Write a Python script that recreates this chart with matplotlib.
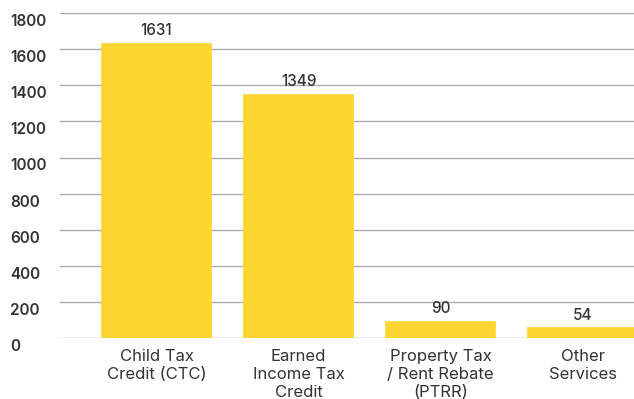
import matplotlib.pyplot as plt
import matplotlib.transforms as mtransforms

categories = ["Child Tax\nCredit (CTC)", "Earned\nIncome Tax\nCredit",
              "Property Tax\n/ Rent Rebate\n(PTRR)", "Other\nServices"]
values = [1631, 1349, 90, 54]
yticks = [0, 200, 400, 600, 800, 1000, 1200, 1400, 1600, 1800]

plt.rcParams["font.family"] = ["Inter", "DejaVu Sans"]

fig = plt.figure(figsize=(6.34, 3.99), dpi=100)
ax = fig.add_axes([0.0946, 0.153, 0.9054, 0.814])

x = list(range(len(values)))
bars = ax.bar(x, values, width=0.77, color="#FDD530", edgecolor="#FDD530",
              linewidth=1.2, zorder=2)

for xi, v in zip(x, values):
    ax.annotate(str(v), (xi, v), xytext=(0, 4), textcoords="offset points",
                ha="center", va="bottom", fontsize=11, fontweight="medium",
                color="#333333")

ax.set_xlim(-0.68, 3.36)
ax.set_ylim(0, 1800)
ax.set_yticks(yticks)
ax.set_yticklabels([str(t) for t in yticks])
ax.set_xticks(x)
ax.set_xticklabels(categories, fontsize=12, color="#333333", linespacing=1.25)

ax.grid(axis="y", color="#aaaaaa", linewidth=1, zorder=0)
for s in ax.spines.values():
    s.set_visible(False)
ax.tick_params(axis="both", length=0)
ax.tick_params(axis="x", pad=8)
ax.tick_params(axis="y", pad=36)

offset = mtransforms.ScaledTranslation(0, -5 / 72, fig.dpi_scale_trans)
for lab in ax.get_yticklabels():
    lab.set_ha("left")
    lab.set_fontsize(11)
    lab.set_fontweight("semibold")
    lab.set_color("#333333")
    lab.set_transform(lab.get_transform() + offset)

fig.savefig("out.png", dpi=100)
